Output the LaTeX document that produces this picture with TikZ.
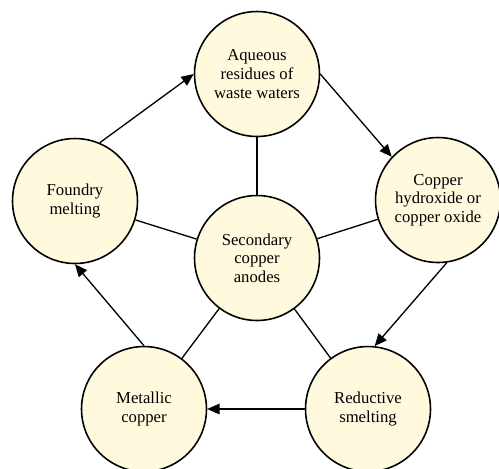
\documentclass[tikz,border=0pt]{standalone}
\usepackage{fontspec}
\setmainfont{Liberation Serif}
\usetikzlibrary{arrows.meta}
\definecolor{stagefill}{RGB}{255,249,221}
\begin{document}
\begin{tikzpicture}[x=0.02cm, y=-0.02cm,
		stage/.style={circle, draw, line width=0.9pt, fill=stagefill, minimum size=2.5cm, inner sep=0pt, align=center, font=\fontsize{9.5}{10.6}\selectfont},
		link/.style={line width=0.75pt},
		flow/.style={line width=0.75pt, -{Triangle[length=7pt,width=6pt]}}]
				\useasboundingbox (0,0) rectangle (499,468);
				\node[stage] (anodes) at (257,258) {Secondary\\copper\\anodes};
				\node[stage] (aqueous) at (257,74) {Aqueous\\residues of\\waste waters};
				\node[stage] (hydroxide) at (438,200) {Copper\\hydroxide or\\copper oxide};
				\node[stage] (smelting) at (368,409) {Reductive\\smelting};
				\node[stage] (metallic) at (144,409) {Metallic\\copper};
				\node[stage] (foundry) at (75,201) {Foundry\\melting};
				\foreach \s in {aqueous,hydroxide,smelting,metallic,foundry} \draw[link] (anodes) -- (\s);
				\draw[flow] (foundry.67) -- (aqueous.west);
				\draw[flow] (aqueous.east) -- (hydroxide.137);
				\draw[flow] (hydroxide.-82) -- (smelting.84);
				\draw[flow] (smelting.west) -- (metallic.east);
				\draw[flow] (metallic.north) -- (foundry.south);
			\end{tikzpicture}
\end{document}
